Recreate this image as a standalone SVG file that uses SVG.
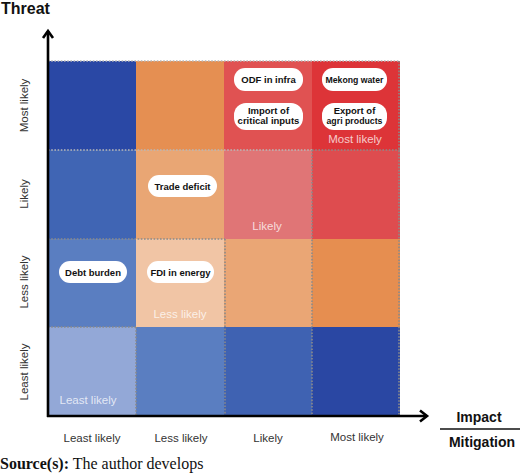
<svg xmlns="http://www.w3.org/2000/svg" width="520" height="476" viewBox="0 0 520 476">
<style>
.axl{font-family:"Liberation Sans",Arial,sans-serif;font-size:11.5px;fill:#333;text-anchor:middle}
.cl{font-family:"Liberation Sans",Arial,sans-serif;font-size:11.5px;fill:#fff;fill-opacity:0.75;text-anchor:middle}
.pill rect{fill:#fff}
.pill text{font-family:"Liberation Sans",Arial,sans-serif;font-size:9.5px;font-weight:bold;fill:#111;text-anchor:middle}
.dl{stroke:#8a8a8a;stroke-width:1.6;stroke-dasharray:1.6 1.6;fill:none}
.dll{stroke:#b8b8b8;stroke-width:1.6;stroke-dasharray:1.6 1.6;fill:none}
.ax{stroke:#000;stroke-width:2.6;fill:none}
.ttl{font-family:"Liberation Sans",Arial,sans-serif;font-weight:bold;fill:#111}
</style>
<rect width="520" height="476" fill="#fff"/>
<g id="cells">
<rect x="48" y="61" width="88" height="89" fill="#2a48a5"/>
<rect x="136" y="61" width="88" height="89" fill="#e58f52"/>
<rect x="224" y="61" width="88" height="89" fill="#e05252"/>
<rect x="312" y="61" width="88" height="89" fill="#dd3438"/>
<rect x="48" y="150" width="88" height="89" fill="#4065b4"/>
<rect x="136" y="150" width="88" height="89" fill="#e9a674"/>
<rect x="224" y="150" width="88" height="89" fill="#e07576"/>
<rect x="312" y="150" width="88" height="89" fill="#de4c4f"/>
<rect x="48" y="239" width="88" height="88" fill="#5a7ec1"/>
<rect x="136" y="239" width="88" height="88" fill="#f1c5a5"/>
<rect x="224" y="239" width="88" height="88" fill="#eaa675"/>
<rect x="312" y="239" width="88" height="88" fill="#e68e50"/>
<rect x="48" y="327" width="88" height="89" fill="#93a8d7"/>
<rect x="136" y="327" width="88" height="89" fill="#5a7ec1"/>
<rect x="224" y="327" width="88" height="89" fill="#3f62b2"/>
<rect x="312" y="327" width="88" height="89" fill="#2a47a3"/>
</g>
<g id="gridlines">
<line class="dll" x1="48" y1="61" x2="400" y2="61"/>
<line class="dll" x1="48" y1="150" x2="312" y2="150"/>
<line class="dl" x1="312" y1="150" x2="400" y2="150"/>
<line class="dl" x1="48" y1="239" x2="225" y2="239"/>
<line class="dl" x1="48" y1="327" x2="136" y2="327"/>
<line class="dl" x1="136" y1="327" x2="136" y2="416"/>
<line class="dl" x1="225" y1="239" x2="225" y2="416"/>
<line class="dl" x1="312" y1="150" x2="312" y2="416"/>
<line class="dl" x1="399" y1="61" x2="399" y2="416"/>
</g>
<g id="cell-labels">
<text class="cl" x="355" y="143">Most likely</text>
<text class="cl" x="267" y="230">Likely</text>
<text class="cl" x="180" y="318">Less likely</text>
<text class="cl" x="88" y="404">Least likely</text>
</g>
<g id="connectors">
<path class="ax" d="M48,417 V31"/>
<path class="ax" d="M43,38 L48,31 L53,38"/>
<path class="ax" d="M47,416 H427"/>
<path class="ax" d="M420,410.5 L427,416 L420,421.5"/>
</g>
<g id="node-odf" class="pill"><rect x="234" y="68" width="69" height="23" rx="11"/><text x="268.5" y="83.3">ODF  in infra</text></g>
<g id="node-import" class="pill"><rect x="234" y="103" width="69" height="27" rx="12"/><text x="268.5" y="114">Import of</text><text x="268.5" y="123.5">critical inputs</text></g>
<g id="node-mekong" class="pill"><rect x="322" y="68" width="65" height="23" rx="11"/><text x="354.5" y="83.3" textLength="58" lengthAdjust="spacingAndGlyphs">Mekong water</text></g>
<g id="node-export" class="pill"><rect x="322" y="103" width="65" height="27" rx="12"/><text x="354.5" y="114">Export of</text><text x="354.5" y="123.5" textLength="56" lengthAdjust="spacingAndGlyphs">agri products</text></g>
<g id="node-trade" class="pill"><rect x="148" y="175" width="69" height="22" rx="11"/><text x="182.5" y="189.5">Trade deficit</text></g>
<g id="node-debt" class="pill"><rect x="59" y="261" width="68" height="22" rx="11"/><text x="93" y="275.5">Debt burden</text></g>
<g id="node-fdi" class="pill"><rect x="147" y="261" width="67" height="22" rx="11"/><text x="180.5" y="275.5">FDI in energy</text></g>
<g id="axis-labels">
<text class="axl" x="92" y="441.5">Least likely</text>
<text class="axl" x="181" y="441.5">Less likely</text>
<text class="axl" x="268" y="441.5">Likely</text>
<text class="axl" x="357" y="441">Most likely</text>
<text class="axl" transform="translate(28,105.5) rotate(-90)">Most likely</text>
<text class="axl" transform="translate(28,194) rotate(-90)">Likely</text>
<text class="axl" transform="translate(28,282) rotate(-90)">Less likely</text>
<text class="axl" transform="translate(28,372) rotate(-90)">Least likely</text>
<text class="ttl" x="1" y="14" font-size="16">Threat</text>
<text class="ttl" x="479" y="421.5" font-size="14" text-anchor="middle">Impact</text>
<line x1="440" y1="429" x2="520" y2="429" stroke="#111" stroke-width="1.6"/>
<text class="ttl" x="482" y="447" font-size="14" text-anchor="middle">Mitigation</text>
</g>
<text x="0" y="469" font-family="'Liberation Serif','Times New Roman',serif" font-size="16" fill="#111"><tspan font-weight="bold">Source(s):</tspan> The author develops</text>
</svg>
